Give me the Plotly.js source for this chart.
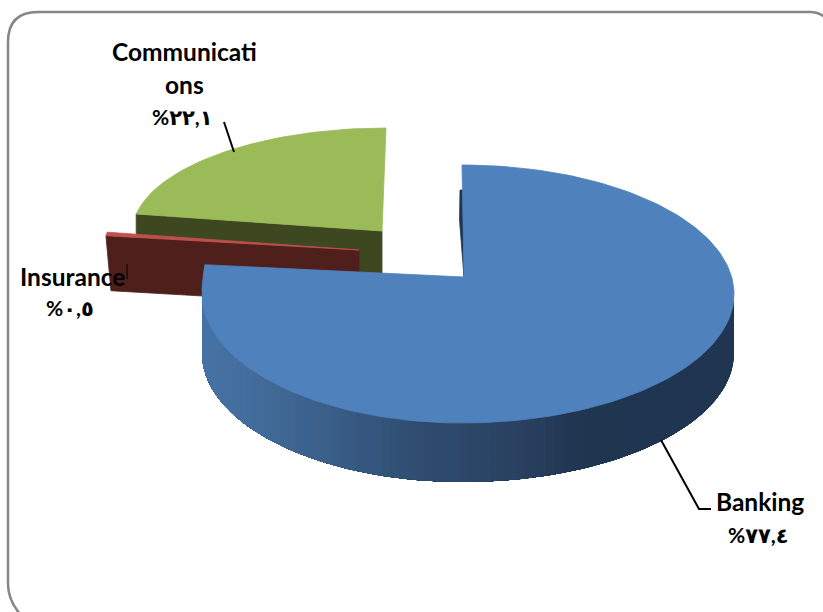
<!DOCTYPE html>
<html>
<head>
<meta charset="utf-8">
<script src="https://cdn.plot.ly/plotly-3.0.1.min.js"></script>
<style>html,body{margin:0;padding:0;background:#fff;overflow:hidden}</style>
</head>
<body>
<div id="chart" style="width:823px;height:612px"></div>
<script>
// ---- data ----
const categories = ['Banking', 'Insurance', 'Communications'];
const values = [77.4, 0.5, 22.1];
const nameLines = [['Banking'], ['Insurance'], ['Communicati', 'ons']];
const valueLabels = ['%٧٧,٤', '%٠,٥', '%٢٢,١'];

// ---- look and projection ----
const topColors = ['#4f81bd', '#c0504d', '#9bbb59'];
const sideColors = [null, '#4f1f1c', '#3e4820'];
const projection = [
  {cx: 462, cy: 294, rxR: 272, rxL: 260, ry: 129, ryUpperLeft: 195, apex: [464, 277], depth: 59, inset: 0},
  {cx: 361, cy: 253, rxR: 258, rxL: 258, ry: 115, ryUpperLeft: 115, apex: [359, 250], depth: 55, inset: 5},
  {cx: 386, cy: 233, rxR: 254, rxL: 254, ry: 105, ryUpperLeft: 105, apex: [382, 231], depth: 58, inset: 0}
];
const sideShade = [[202, '#4673a6'], [260, '#426c9a'], [330, '#3a5f8a'], [430, '#2e4b6e'], [520, '#2a4262'], [585, '#203550'], [735, '#1f3552']];
const labelPlaces = [
  {x: 760, ys: [501], vy: 534},
  {x: 72, ys: [276], vy: 307},
  {x: 184, ys: [51, 84], vy: 116}
];
const FONT = 'Lato, "DejaVu Sans", sans-serif';

// ---- helpers ----
const rad = d => d * Math.PI / 180;
function pt(g, deg) {
  const s = Math.sin(rad(deg)), c = Math.cos(rad(deg));
  return [g.cx + (s < 0 ? g.rxL : g.rxR) * s,
          g.cy - ((s < 0 && c > 0) ? g.ryUpperLeft : g.ry) * c];
}
function hex(h) { return [1, 3, 5].map(i => parseInt(h.substr(i, 2), 16)); }
function shadeAt(x) {
  for (let i = 1; i < sideShade.length; i++) {
    if (x <= sideShade[i][0]) {
      const [x0, c0] = sideShade[i - 1], [x1, c1] = sideShade[i];
      const t = Math.max(0, (x - x0) / (x1 - x0));
      const a = hex(c0), b = hex(c1);
      return 'rgb(' + a.map((v, k) => Math.round(v + (b[k] - v) * t)).join(',') + ')';
    }
  }
  return sideShade[sideShade.length - 1][1];
}
function poly(points, color, w) {
  const xs = points.map(p => p[0]), ys = points.map(p => p[1]);
  xs.push(xs[0]); ys.push(ys[0]);
  return {type: 'scatter', mode: 'lines', x: xs, y: ys, fill: 'toself', fillcolor: color,
          line: {color: color, width: w === undefined ? 0.8 : w}, hoverinfo: 'skip', showlegend: false};
}
function arc(g, a0, a1) {
  const n = Math.max(2, Math.ceil(Math.abs(a1 - a0) / 1.5));
  const out = [];
  for (let i = 0; i <= n; i++) out.push(pt(g, a0 + (a1 - a0) * i / n));
  return out;
}

// ---- slices from the values ----
const total = values.reduce((a, b) => a + b, 0);
let run = 0;
const angles = values.map(v => { const a0 = run; run += v / total * 360; return [a0, run]; });

const traces = [];
// Communications, then Insurance, then Banking (back to front)
[2, 1].forEach(i => {
  const g = projection[i], [a0, a1] = angles[i];
  const edge = pt(g, a0);
  traces.push(poly([g.apex, edge, [edge[0] + g.inset, edge[1] + g.depth], [g.apex[0], g.apex[1] + g.depth]], sideColors[i]));
  traces.push(poly([g.apex].concat(arc(g, a0, a1)), topColors[i]));
});

const b = projection[0], [b0, b1] = angles[0];
// dark cut face seen behind the Banking slice's straight edge
const tip = pt(b, b0);
traces.push(poly([[tip[0] - 2, tip[1] + 25], [tip[0] - 2.5, tip[1] + 55], b.apex, [b.apex[0], tip[1] + 25]], '#1f3552'));
// shaded rim: overlapping strips painted from the right-hand end to the left, each reaching to the far end
const step = 2;
for (let a = 90; a < 270; a += step) {
  const strip = arc(b, a, 270);
  const p = pt(b, a);
  const lower = strip.map(s => [s[0], s[1] + b.depth]).reverse();
  traces.push(poly(strip.concat(lower), shadeAt(p[0]), 0));
}
traces.push(poly([b.apex].concat(arc(b, b0, b1)), topColors[0]));

// ---- labels ----
const annotations = [];
values.forEach((v, i) => {
  const place = labelPlaces[i];
  nameLines[i].forEach((line, k) => annotations.push({
    text: '<b>' + line + '</b>', x: place.x, y: place.ys[k], xref: 'x', yref: 'y', showarrow: false,
    xanchor: 'center', yanchor: 'middle', font: {family: FONT, size: 24.5, color: '#000'}
  }));
  annotations.push({
    text: '<b>' + valueLabels[i] + '</b>', x: place.x, y: place.vy, xref: 'x', yref: 'y', showarrow: false,
    xanchor: 'center', yanchor: 'middle', xshift: -2, font: {family: FONT, size: 21, color: '#000'}
  });
});
annotations.push({text: '<b>es</b>', x: 14, y: 7, xref: 'x', yref: 'y', yanchor: 'bottom', xanchor: 'right',
  showarrow: false, font: {family: '"Liberation Serif", serif', size: 22, color: '#0000ff'}});

const leader = (path, w) => ({type: 'path', xref: 'x', yref: 'y', path: path, line: {color: '#000', width: w}, layer: 'above'});
const shapes = [
  {type: 'path', xref: 'x', yref: 'y', layer: 'below', line: {color: '#868686', width: 2.5},
   path: 'M 20 614 Q 8 600 8 584 L 8 42 Q 8 12 38 12 L 810 12 Q 818 12 825 17'},
  leader('M 224 122 L 234 152', 2),
  leader('M 661 440 L 699 509 L 711 509', 2),
  leader('M 127 264 L 127 279', 1)
];

Plotly.newPlot('chart', traces, {
  width: 823, height: 612,
  margin: {l: 0, r: 0, t: 0, b: 0},
  paper_bgcolor: '#fff', plot_bgcolor: '#fff',
  showlegend: false,
  xaxis: {range: [0, 823], visible: false, fixedrange: true},
  yaxis: {range: [612, 0], visible: false, fixedrange: true},
  shapes: shapes,
  annotations: annotations
}, {displayModeBar: false, staticPlot: true}).then(() => {
  document.querySelectorAll('.annotation-text').forEach(t => {
    if (t.textContent.charAt(0) === '%') t.style.letterSpacing = '2.5px';
  });
});
</script>
</body>
</html>
